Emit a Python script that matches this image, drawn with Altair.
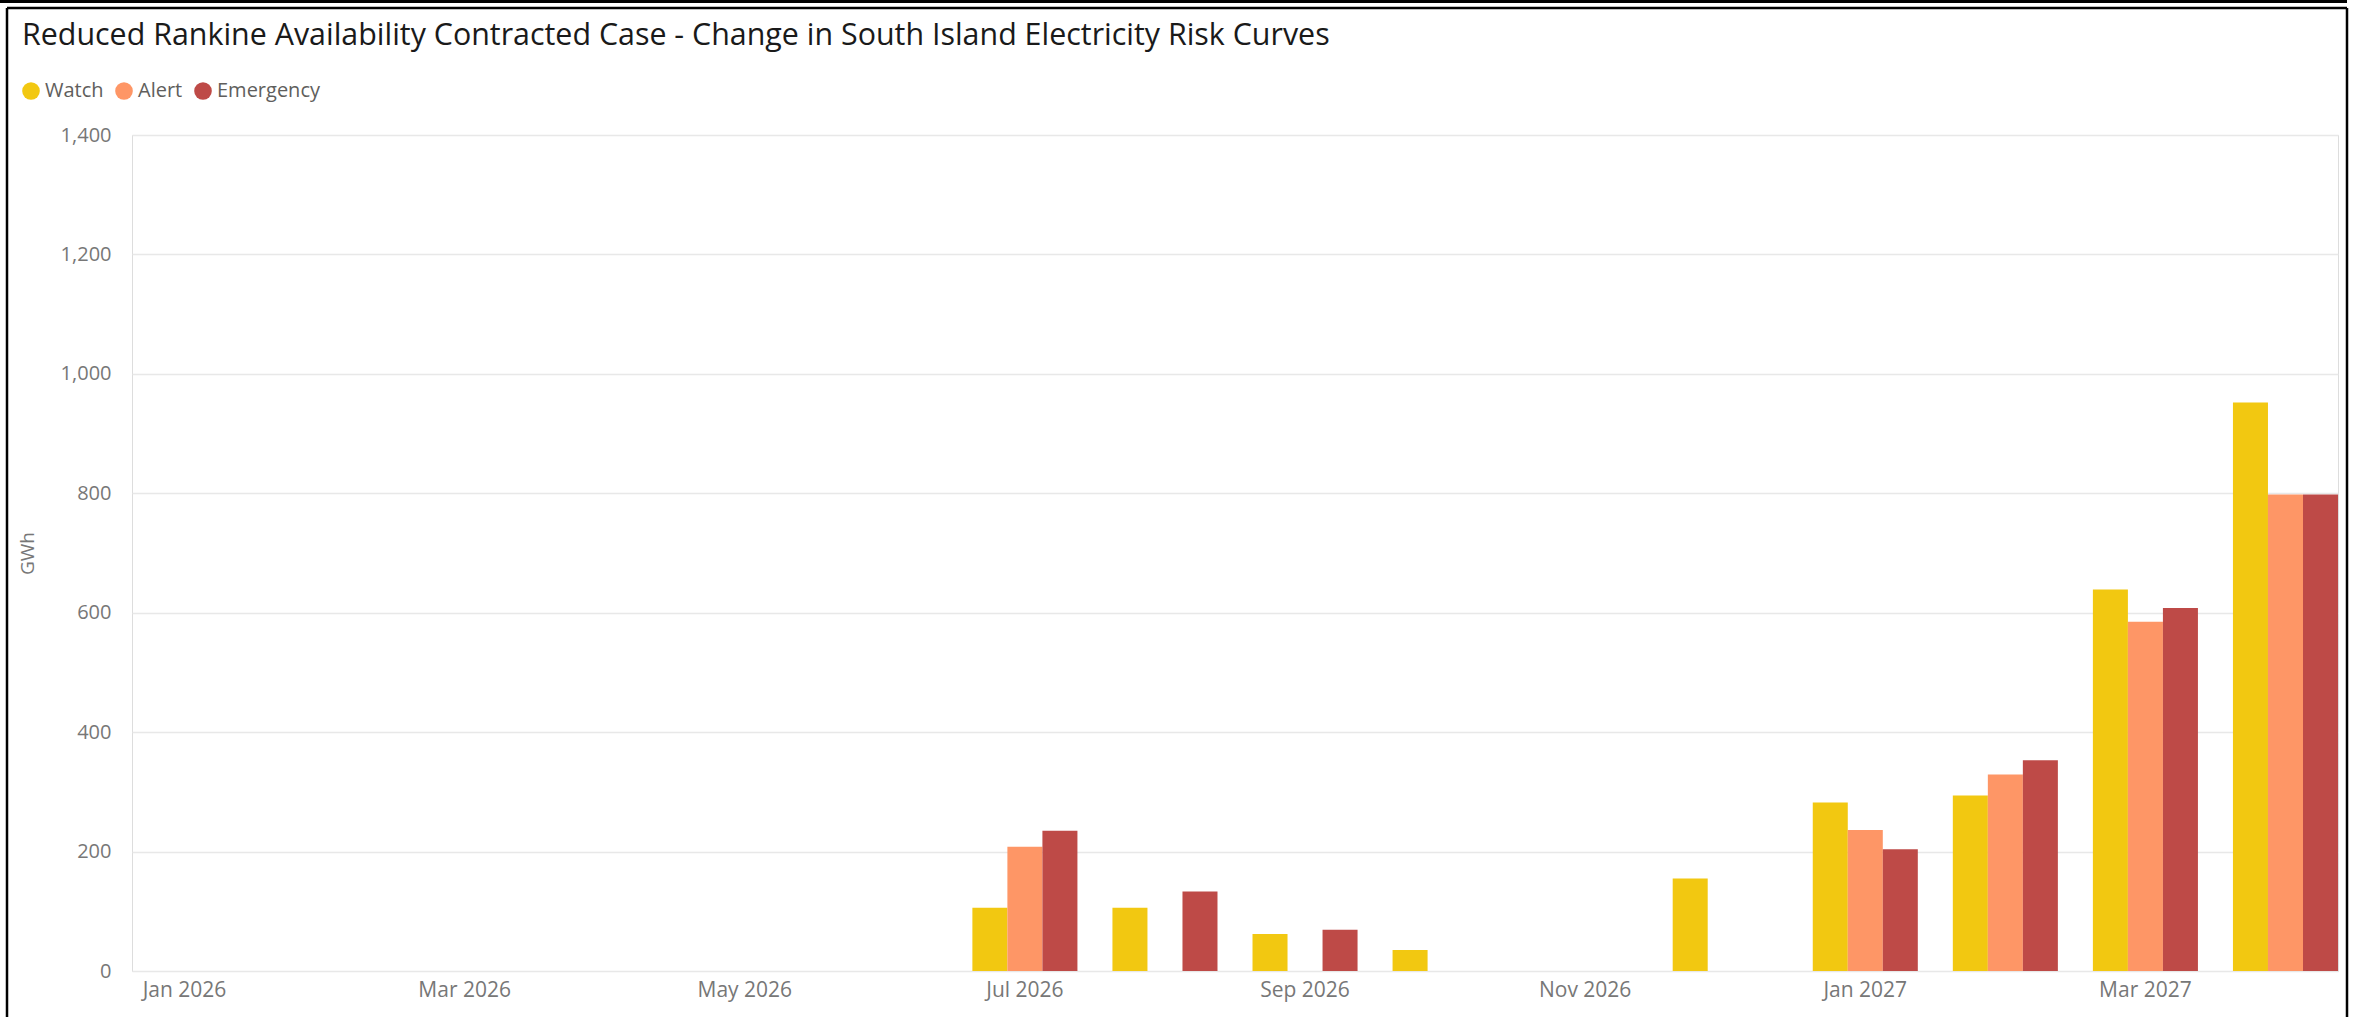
import altair as alt
import pandas as pd

months = ["Jan 2026", "Feb 2026", "Mar 2026", "Apr 2026", "May 2026", "Jun 2026",
          "Jul 2026", "Aug 2026", "Sep 2026", "Oct 2026", "Nov 2026", "Dec 2026",
          "Jan 2027", "Feb 2027", "Mar 2027", "Apr 2027"]
watch = [0, 0, 0, 0, 0, 0, 106, 106, 62, 35, 0, 155, 282, 294, 639, 952]
alert = [0, 0, 0, 0, 0, 0, 208, 0, 0, 0, 0, 0, 236, 329, 585, 798]
emergency = [0, 0, 0, 0, 0, 0, 235, 133, 69, 0, 0, 0, 204, 353, 608, 798]
series = ["Watch", "Alert", "Emergency"]
colors = ["#F2C811", "#FE9666", "#BE4A47"]
tick_months = months[::2]

rows = []
for name, vals in zip(series, [watch, alert, emergency]):
    for m, v in zip(months, vals):
        rows.append({"Month": m, "Series": name, "GWh": v})
df = pd.DataFrame(rows)

FONT = "Open Sans"
GREY = "#605E5C"

bars = alt.Chart(df).mark_bar().encode(
    x=alt.X("Month:N", sort=months,
            scale=alt.Scale(paddingInner=0.25, paddingOuter=0.0),
            axis=alt.Axis(title=None, values=tick_months, labelAngle=0, domain=False,
                          ticks=False, labelFontSize=21, labelColor="#777777",
                          labelFont=FONT, labelPadding=8)),
    xOffset=alt.XOffset("Series:N", sort=series,
                        scale=alt.Scale(domain=series, paddingInner=0, paddingOuter=0)),
    y=alt.Y("GWh:Q", scale=alt.Scale(domain=[0, 1400], nice=False),
            axis=alt.Axis(title="GWh", values=[0, 200, 400, 600, 800, 1000, 1200, 1400],
                          format=",.0f", domain=False, ticks=False, labelFontSize=20,
                          labelColor="#777777", labelFont=FONT, labelPadding=21,
                          gridColor="#E8E8E8", gridWidth=1.5,
                          titleFont=FONT, titleFontSize=19, titleColor="#777777",
                          titleFontWeight="normal", titleX=-105, titleY=418,
                          titleAngle=-90, titleAlign="center", titleBaseline="middle")),
    color=alt.Color("Series:N", sort=series,
                    scale=alt.Scale(domain=series, range=colors),
                    legend=alt.Legend(title=None, orient="none", direction="horizontal",
                                      legendX=-111, legendY=-54, symbolType="circle",
                                      symbolSize=310, symbolStrokeWidth=0,
                                      labelFontSize=20, labelFont=FONT, labelColor=GREY,
                                      labelOffset=4, columnPadding=10)),
)

frame_df = pd.DataFrame({"k": [0]})
top_line = alt.Chart(frame_df).mark_rule(color="black", strokeWidth=3).encode(
    x=alt.value(-132), x2=alt.value(2215), y=alt.value(-133.5))
inner_top = alt.Chart(frame_df).mark_rule(color="black", strokeWidth=2.5).encode(
    x=alt.value(-125), x2=alt.value(2215), y=alt.value(-127))
left_line = alt.Chart(frame_df).mark_rule(color="black", strokeWidth=2.5).encode(
    x=alt.value(-125), y=alt.value(-127), y2=alt.value(882))
right_line = alt.Chart(frame_df).mark_rule(color="black", strokeWidth=2.5).encode(
    x=alt.value(2215), y=alt.value(-127), y2=alt.value(882))

chart = alt.layer(bars, top_line, inner_top, left_line, right_line).properties(
    width=2206, height=836,
    autosize=alt.AutoSizeParams(type="none"),
    padding={"left": 132, "top": 135, "right": 21, "bottom": 46},
    title=alt.TitleParams(
        text="Reduced Rankine Availability Contracted Case - Change in South Island Electricity Risk Curves",
        anchor="start", frame="group", dx=-110, dy=75, offset=0, baseline="alphabetic",
        font=FONT, fontSize=30.4, fontWeight="normal", color="#1A1A1A"),
).configure_view(stroke=None).configure(background="white")

chart.save("out.html", embed_options={"renderer": "svg", "actions": False})
